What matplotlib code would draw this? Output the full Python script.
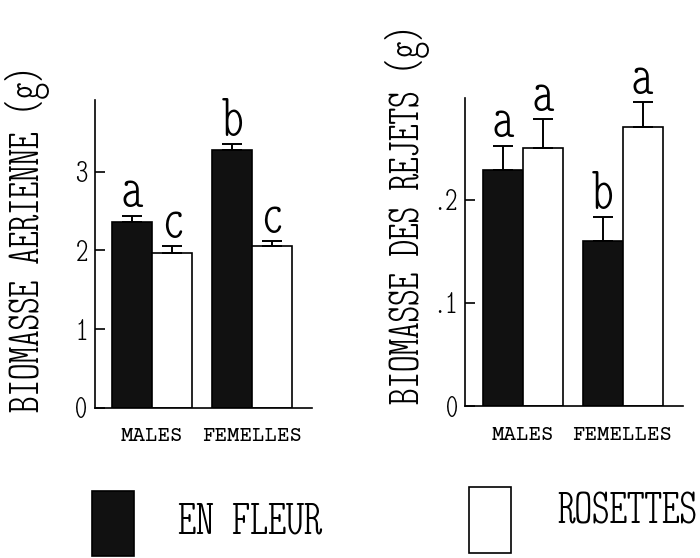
import numpy as np
import matplotlib
matplotlib.use("Agg")
import matplotlib.pyplot as plt
from matplotlib.patches import Rectangle

# values
groups = ["MALES", "FEMELLES"]
aer_fleur = [2.36, 3.28]
aer_fleur_err = [0.08, 0.07]
aer_ros = [1.96, 2.05]
aer_ros_err = [0.09, 0.07]
aer_letters_fleur = ["a", "b"]
aer_letters_ros = ["c", "c"]

rej_fleur = [0.229, 0.160]
rej_fleur_err = [0.023, 0.023]
rej_ros = [0.250, 0.270]
rej_ros_err = [0.028, 0.024]
rej_letters_fleur = ["a", "b"]
rej_letters_ros = ["a", "a"]

aer_ticks = [0, 1, 2, 3]
aer_ticklabels = ["0", "1", "2", "3"]
rej_ticks = [0, 0.1, 0.2]
rej_ticklabels = ["0", ".1", ".2"]

cond = "Latin Modern Mono Light Cond"
mono = "Courier Prime"

fig = plt.figure(figsize=(7, 5.58), dpi=100)
ax1 = fig.add_axes([0.135, 0.269, 0.311, 0.552])
ax2 = fig.add_axes([0.664, 0.272, 0.311, 0.552])

w = 0.4
x = np.arange(len(groups))


def panel(ax, fl, fle, ro, roe, lf, lr, ymax, ticks, ticklabels):
    ekw = dict(elinewidth=1.4, capthick=1.4, ecolor="black")
    ax.bar(x - w / 2, fl, w, color="#111111", edgecolor="black", lw=1.2,
           yerr=[np.zeros(2), fle], capsize=7, error_kw=ekw)
    ax.bar(x + w / 2, ro, w, color="white", edgecolor="black", lw=1.2,
           yerr=[np.zeros(2), roe], capsize=7, error_kw=ekw)
    for xi, v, e, t in zip(x - w / 2, fl, fle, lf):
        ax.annotate(t, (xi, v + e), xytext=(0, 6), textcoords="offset points",
                    ha="center", va="baseline", fontsize=44, family=cond)
    for xi, v, e, t in zip(x + w / 2, ro, roe, lr):
        ax.annotate(t, (xi, v + e), xytext=(0, 6), textcoords="offset points",
                    ha="center", va="baseline", fontsize=44, family=cond)
    ax.set_xlim(-0.58, 1.6)
    ax.set_ylim(0, ymax)
    ax.spines[["top", "right"]].set_visible(False)
    ax.spines[["left", "bottom"]].set_linewidth(1.2)
    ax.set_yticks(ticks)
    ax.set_yticklabels(ticklabels, family=cond, fontsize=25)
    ax.tick_params(axis="y", direction="in", length=7, width=1.2, pad=5)
    ax.set_xticks(x)
    ax.set_xticklabels(groups, family=mono, fontsize=15)
    ax.tick_params(axis="x", length=0, pad=14)


panel(ax1, aer_fleur, aer_fleur_err, aer_ros, aer_ros_err,
      aer_letters_fleur, aer_letters_ros, 3.91, aer_ticks, aer_ticklabels)
panel(ax2, rej_fleur, rej_fleur_err, rej_ros, rej_ros_err,
      rej_letters_fleur, rej_letters_ros, 0.298, rej_ticks, rej_ticklabels)

fig.text(0.040, 0.573, "BIOMASSE AERIENNE (g)", rotation=90, ha="center",
         va="center", family=cond, fontsize=34)
fig.text(0.582, 0.616, "BIOMASSE DES REJETS (g)", rotation=90, ha="center",
         va="center", family=cond, fontsize=34)

# legend
fig.patches.append(Rectangle((0.131, 0.004), 0.061, 0.116, transform=fig.transFigure,
                             facecolor="#111111", edgecolor="black", lw=1.2))
fig.patches.append(Rectangle((0.670, 0.009), 0.060, 0.118, transform=fig.transFigure,
                             facecolor="white", edgecolor="black", lw=1.2))
fig.text(0.357, 0.061, "EN FLEUR", ha="center", va="center", family=cond, fontsize=37)
fig.text(0.896, 0.079, "ROSETTES", ha="center", va="center", family=cond, fontsize=36)

fig.savefig("out.png", dpi=100)
